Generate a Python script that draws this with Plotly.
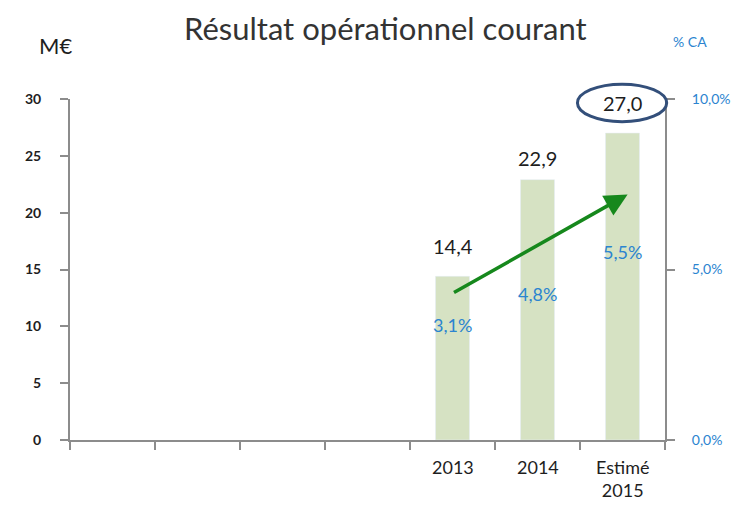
import plotly.graph_objects as go

# Data
categories = ["", "", "", "", "2013", "2014", "Estimé<br>2015"]
values_meur = [None, None, None, None, 14.4, 22.9, 27.0]
value_labels = ["14,4", "22,9", "27,0"]
pct_ca = [3.1, 4.8, 5.5]
pct_labels = ["3,1%", "4,8%", "5,5%"]
left_ticks = [0, 5, 10, 15, 20, 25, 30]
right_tickvals = [0, 5, 10]
right_ticktext = ["0,0%", "5,0%", "10,0%"]

FONT = "Lato, DejaVu Sans, sans-serif"
BLUE = "#2b84d0"
DARK = "#1e1e1e"
AXIS = "#8c8c8c"

# page offset (body margin) compensation
L, T, R, B = 62, 91, 85, 74
PW = 742 - L - R
PH = 506 - T - B

xs = list(range(len(categories)))
n = len(categories)

fig = go.Figure()
fig.add_trace(go.Bar(
    x=xs, y=values_meur, marker_color="#d6e2c3", width=0.40,
    hoverinfo="skip", showlegend=False,
))
bar_x = [i for i, v in zip(xs, values_meur) if v is not None]
bar_y = [v for v in values_meur if v is not None]
fig.add_trace(go.Scatter(
    x=bar_x, y=pct_ca, yaxis="y2", mode="markers",
    marker=dict(opacity=0), hoverinfo="skip", showlegend=False,
))

# value labels above bars
for x, y, t, dy in zip(bar_x, bar_y, value_labels, [30, 22, 30]):
    fig.add_annotation(x=x, y=y, text=t, showarrow=False, yshift=dy,
                       font=dict(family=FONT, size=20, color=DARK))
# percent labels
for x, y, t, dy in zip(bar_x, pct_ca, pct_labels, [9, -18, 0]):
    fig.add_annotation(x=x, y=y, yref="y2", text=t, showarrow=False, yshift=dy,
                       font=dict(family=FONT, size=18, color=BLUE))

# category labels
for x, c in zip(xs, categories):
    if c:
        fig.add_annotation(x=x, y=0, text=c, showarrow=False, yanchor="top",
                           yshift=-14, font=dict(family=FONT, size=18, color=DARK))

# green trend arrow
fig.add_annotation(x=bar_x[2] + 0.06, y=21.6, ax=bar_x[0], ay=12.9,
                   axref="x", ayref="y", xref="x", yref="y", text="",
                   showarrow=True, arrowhead=2, arrowsize=1.3, arrowwidth=3.5,
                   arrowcolor="#16881c")

# ellipse around last value (paper coords so it is not clipped)
def px(xv):
    return (xv + 0.5) / n
fig.add_shape(type="circle", xref="paper", yref="paper",
              x0=px(bar_x[2] - 0.53), x1=px(bar_x[2] + 0.52), y0=28.0 / 30, y1=31.3 / 30,
              line=dict(color="#334f7a", width=3))

def top_text(text, sx, sy, size, color):
    fig.add_annotation(text=text, xref="paper", yref="paper",
                       x=(sx - 8 - L) / PW, y=1 + (T - sy + 8) / PH,
                       xanchor="center", yanchor="middle", showarrow=False,
                       font=dict(family=FONT, size=size, color=color))

top_text("Résultat opérationnel courant", 385, 28, 31, "#333333")
top_text("M€", 55, 46, 22, DARK)
top_text("% CA", 690, 42, 14, BLUE)

fig.update_layout(
    width=742, height=506,
    margin=dict(l=L, r=R, t=T, b=B),
    paper_bgcolor="white", plot_bgcolor="white",
    xaxis=dict(range=[-0.5, n - 0.5], showgrid=False, zeroline=False,
               showline=True, linecolor=AXIS, linewidth=2,
               tickmode="array", tickvals=[i - 0.5 for i in range(n + 1)],
               ticktext=[""] * (n + 1),
               ticks="outside", ticklen=8, tickcolor=AXIS, tickwidth=2,
               fixedrange=True),
    yaxis=dict(range=[0, 30], tickvals=left_ticks, showgrid=False, zeroline=False,
               showline=True, linecolor=AXIS, linewidth=2,
               ticks="outside", ticklen=8, tickcolor=AXIS, tickwidth=2,
               tickfont=dict(family=FONT, size=14, color=DARK, weight="bold"),
               ticklabelstandoff=16),
    yaxis2=dict(range=[0, 10], overlaying="y", side="right",
                tickvals=right_tickvals, ticktext=right_ticktext,
                showgrid=False, zeroline=False, showline=True, linecolor=AXIS, linewidth=2,
                ticks="outside", ticklen=8, tickcolor=AXIS, tickwidth=2,
                tickfont=dict(family=FONT, size=14, color=BLUE),
                ticklabelstandoff=14),
)

fig.write_html("out.html")
